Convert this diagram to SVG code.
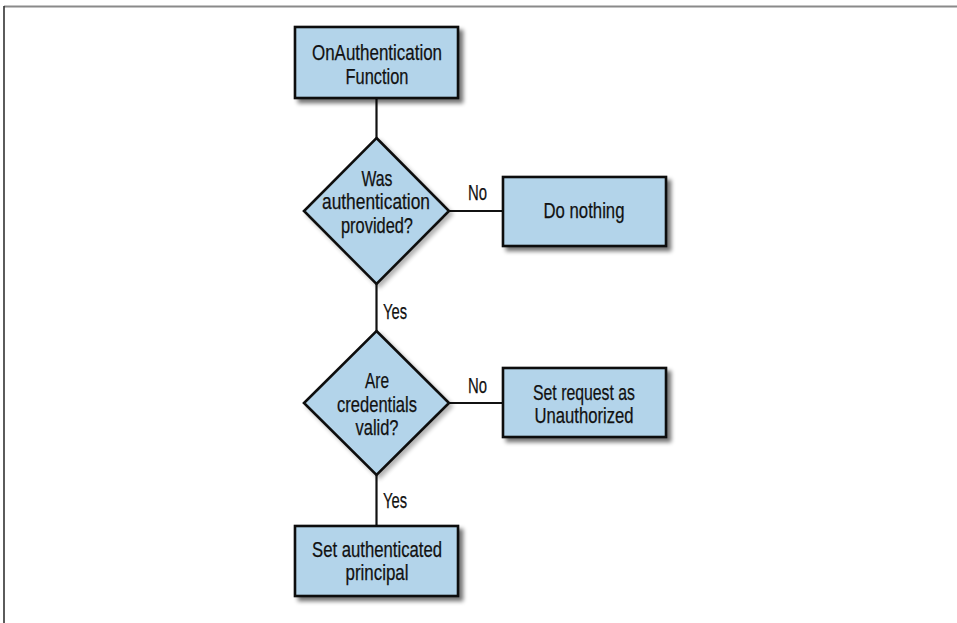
<svg xmlns="http://www.w3.org/2000/svg" width="957" height="623" viewBox="0 0 957 623">
  <defs>
    <filter id="shadow" x="-10%" y="-20%" width="130%" height="150%">
      <feGaussianBlur in="SourceAlpha" stdDeviation="2.2"/>
      <feOffset dx="4" dy="4" result="blur"/>
      <feComponentTransfer><feFuncA type="linear" slope="0.55"/></feComponentTransfer>
      <feMerge><feMergeNode/><feMergeNode in="SourceGraphic"/></feMerge>
    </filter>
    <filter id="shadow-soft" x="-15%" y="-15%" width="135%" height="135%">
      <feGaussianBlur in="SourceAlpha" stdDeviation="2"/>
      <feOffset dx="3" dy="3" result="blur"/>
      <feComponentTransfer><feFuncA type="linear" slope="0.3"/></feComponentTransfer>
      <feMerge><feMergeNode/><feMergeNode in="SourceGraphic"/></feMerge>
    </filter>
  </defs>
  <style>
    .box { fill: #b3d4ea; stroke: #111; stroke-width: 2.6; }
    .dia { fill: #b3d4ea; stroke: #111; stroke-width: 2.6; stroke-linejoin: miter; }
    .conn { stroke: #111; stroke-width: 2.2; fill: none; }
    text { font-family: "Liberation Sans", Arial, sans-serif; font-size: 22px; fill: #111; text-anchor: middle; stroke: #111; stroke-width: 0.25; }
    .lbl { text-anchor: start; }
  </style>
  <rect width="957" height="623" fill="#fff"/>
  <!-- page frame -->
  <line x1="4" y1="6.5" x2="957" y2="6.5" stroke="#8a8a8a" stroke-width="2"/>
  <line x1="4" y1="6" x2="4" y2="623" stroke="#333" stroke-width="1.6"/>

  <g id="connectors">
    <line class="conn" x1="376.5" y1="98" x2="376.5" y2="138"/>
    <line class="conn" x1="376.5" y1="284" x2="376.5" y2="331"/>
    <line class="conn" x1="376.5" y1="475" x2="376.5" y2="526"/>
    <line class="conn" x1="449" y1="211" x2="503" y2="211"/>
    <line class="conn" x1="449" y1="403" x2="503" y2="403"/>
    <text class="lbl" x="468" y="200" textLength="19" lengthAdjust="spacingAndGlyphs">No</text>
    <text class="lbl" x="468" y="393" textLength="19" lengthAdjust="spacingAndGlyphs">No</text>
    <text class="lbl" x="383" y="319" textLength="24" lengthAdjust="spacingAndGlyphs">Yes</text>
    <text class="lbl" x="383" y="508" textLength="24" lengthAdjust="spacingAndGlyphs">Yes</text>
  </g>

  <g id="start">
    <rect class="box" x="295" y="27" width="163" height="71" filter="url(#shadow)"/>
    <text x="377" y="60" textLength="130" lengthAdjust="spacingAndGlyphs">OnAuthentication</text>
    <text x="377" y="84" textLength="63" lengthAdjust="spacingAndGlyphs">Function</text>
  </g>

  <g id="auth-provided">
    <polygon class="dia" points="376.5,138 449,211 376.5,284 304,211" filter="url(#shadow-soft)"/>
    <text x="377" y="186" textLength="31" lengthAdjust="spacingAndGlyphs">Was</text>
    <text x="376" y="209" textLength="108" lengthAdjust="spacingAndGlyphs">authentication</text>
    <text x="377" y="233" textLength="72" lengthAdjust="spacingAndGlyphs">provided?</text>
  </g>

  <g id="do-nothing">
    <rect class="box" x="503" y="177" width="163" height="69" filter="url(#shadow)"/>
    <text x="584" y="218" textLength="81" lengthAdjust="spacingAndGlyphs">Do nothing</text>
  </g>

  <g id="credentials-valid">
    <polygon class="dia" points="376.5,331 449,403 376.5,475 304,403" filter="url(#shadow-soft)"/>
    <text x="377" y="388" textLength="24" lengthAdjust="spacingAndGlyphs">Are</text>
    <text x="377" y="412" textLength="80" lengthAdjust="spacingAndGlyphs">credentials</text>
    <text x="377" y="435" textLength="43" lengthAdjust="spacingAndGlyphs">valid?</text>
  </g>

  <g id="unauthorized">
    <rect class="box" x="503" y="368" width="163" height="69" filter="url(#shadow)"/>
    <text x="584" y="400" textLength="102" lengthAdjust="spacingAndGlyphs">Set request as</text>
    <text x="584" y="423" textLength="99" lengthAdjust="spacingAndGlyphs">Unauthorized</text>
  </g>

  <g id="set-principal">
    <rect class="box" x="295" y="526" width="163" height="70" filter="url(#shadow)"/>
    <text x="377" y="557" textLength="130" lengthAdjust="spacingAndGlyphs">Set authenticated</text>
    <text x="377" y="580" textLength="63" lengthAdjust="spacingAndGlyphs">principal</text>
  </g>
</svg>
